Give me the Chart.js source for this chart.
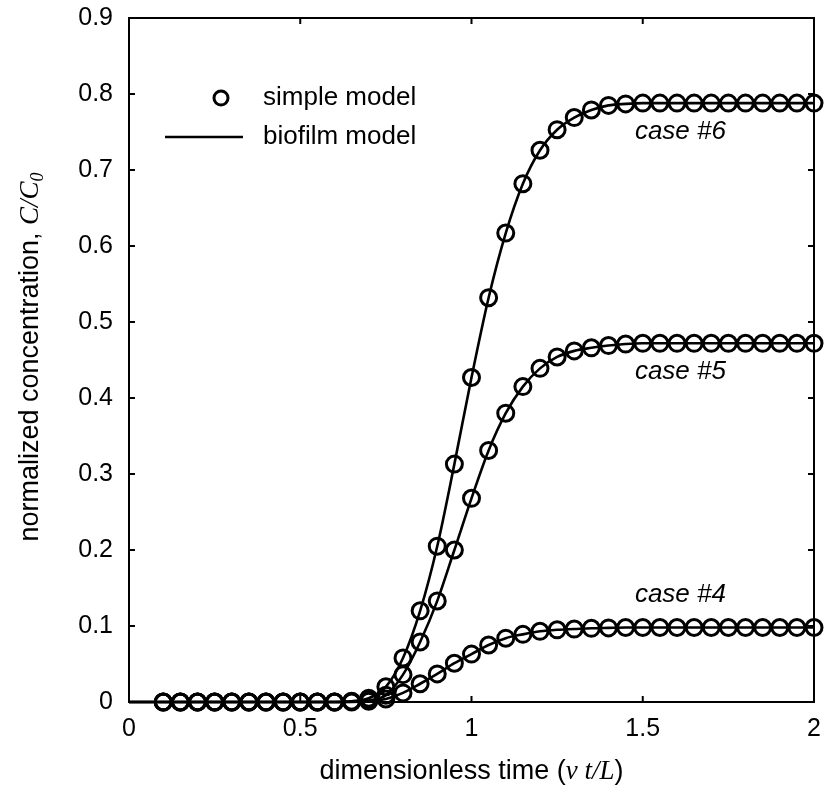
<!DOCTYPE html>
<html>
<head>
<meta charset="utf-8">
<script src="https://cdn.jsdelivr.net/npm/chart.js@4.4.0/dist/chart.umd.min.js"></script>
<style>
  html, body { margin: 0; padding: 0; background: #fff; }
  #wrap { width: 825px; height: 801px; }
</style>
</head>
<body>
<div id="wrap"><canvas id="chart" width="825" height="801"></canvas></div>
<script>
// dimensionless time values where the model was sampled
const times = [0.1, 0.15, 0.2, 0.25, 0.3, 0.35, 0.4, 0.45, 0.5, 0.55, 0.6, 0.65, 0.7, 0.75,
  0.8, 0.85, 0.9, 0.95, 1.0, 1.05, 1.1, 1.15, 1.2, 1.25, 1.3, 1.35, 1.4, 1.45, 1.5, 1.55,
  1.6, 1.65, 1.7, 1.75, 1.8, 1.85, 1.9, 1.95, 2.0];

const case6 = [0, 0, 0, 0, 0, 0, 0, 0, 0, 0, 0, 0.001, 0.005, 0.02,
  0.058, 0.12, 0.205, 0.313, 0.427, 0.532, 0.617, 0.682, 0.726, 0.753, 0.769, 0.779, 0.785, 0.787, 0.788, 0.788,
  0.788, 0.788, 0.788, 0.788, 0.788, 0.788, 0.788, 0.788, 0.788];
const case5 = [0, 0, 0, 0, 0, 0, 0, 0, 0, 0, 0, 0.0005, 0.002, 0.009,
  0.036, 0.079, 0.133, 0.2, 0.268, 0.331, 0.38, 0.415, 0.439, 0.454, 0.462, 0.466, 0.469, 0.471, 0.472, 0.472,
  0.472, 0.472, 0.472, 0.472, 0.472, 0.472, 0.472, 0.472, 0.472];
const case4 = [0, 0, 0, 0, 0, 0, 0, 0, 0, 0, 0, 0, 0.001, 0.004,
  0.012, 0.024, 0.037, 0.051, 0.063, 0.075, 0.084, 0.089, 0.093, 0.095, 0.096, 0.097, 0.0975, 0.098, 0.098, 0.098,
  0.098, 0.098, 0.098, 0.098, 0.098, 0.098, 0.098, 0.098, 0.098];

const xTicks = [0, 0.5, 1, 1.5, 2];
const yTicks = [0, 0.1, 0.2, 0.3, 0.4, 0.5, 0.6, 0.7, 0.8, 0.9];

const caseLabels = [
  { text: 'case #6', x: 1.61, y: 0.75 },
  { text: 'case #5', x: 1.61, y: 0.434 },
  { text: 'case #4', x: 1.61, y: 0.141 }
];

function pts(ys, withOrigin) {
  const out = times.map((t, i) => ({ x: t, y: ys[i] }));
  if (withOrigin) out.unshift({ x: 0, y: 0 });
  return out;
}

function lineSet(ys) {
  return {
    data: pts(ys, true), showLine: true, pointRadius: 0, borderColor: '#000',
    borderWidth: 2.6, cubicInterpolationMode: 'monotone', clip: false
  };
}
function markerSet(ys) {
  return {
    data: pts(ys, false), showLine: false, pointRadius: 8, pointHoverRadius: 8,
    pointBorderWidth: 3, pointBorderColor: '#000', pointBackgroundColor: 'rgba(0,0,0,0)',
    clip: false
  };
}

const sans = '"Liberation Sans", Arial, sans-serif';
const serif = '"Liberation Serif", "Times New Roman", serif';

// frame, inward ticks, titles, legend and case labels
const decor = {
  id: 'decor',
  afterDatasetsDraw(chart) {
    const ctx = chart.ctx;
    const a = chart.chartArea;
    const xs = chart.scales.x, ys = chart.scales.y;
    ctx.save();
    ctx.strokeStyle = '#000';
    ctx.lineWidth = 2;
    ctx.strokeRect(a.left, a.top, a.right - a.left, a.bottom - a.top);
    ctx.beginPath();
    yTicks.forEach(v => {
      const p = ys.getPixelForValue(v);
      ctx.moveTo(a.left, p); ctx.lineTo(a.left + 6, p);
      ctx.moveTo(a.right, p); ctx.lineTo(a.right - 6, p);
    });
    xTicks.forEach(v => {
      const p = xs.getPixelForValue(v);
      ctx.moveTo(p, a.bottom); ctx.lineTo(p, a.bottom - 6);
      ctx.moveTo(p, a.top); ctx.lineTo(p, a.top + 6);
    });
    ctx.stroke();

    // legend
    ctx.fillStyle = '#000';
    ctx.textBaseline = 'middle';
    ctx.textAlign = 'left';
    ctx.font = '26px ' + sans;
    ctx.lineWidth = 3;
    ctx.beginPath();
    ctx.arc(221, 98, 7, 0, Math.PI * 2);
    ctx.stroke();
    ctx.fillText('simple model', 263, 98);
    ctx.lineWidth = 2.6;
    ctx.beginPath();
    ctx.moveTo(165, 137); ctx.lineTo(243, 137);
    ctx.stroke();
    ctx.fillText('biofilm model', 263, 137);

    // case labels
    ctx.textAlign = 'center';
    ctx.font = 'italic 26px ' + sans;
    caseLabels.forEach(c => {
      ctx.fillText(c.text, xs.getPixelForValue(c.x), ys.getPixelForValue(c.y));
    });

    // x title: dimensionless time (v t/L)
    const parts = [
      { t: 'dimensionless time (', f: '27px ' + sans },
      { t: 'v t/L', f: 'italic 27px ' + serif },
      { t: ')', f: '27px ' + sans }
    ];
    let total = 0;
    parts.forEach(p => { ctx.font = p.f; p.w = ctx.measureText(p.t).width; total += p.w; });
    let x = (a.left + a.right) / 2 - total / 2;
    ctx.textAlign = 'left';
    parts.forEach(p => { ctx.font = p.f; ctx.fillText(p.t, x, 772); x += p.w; });

    // y title: normalized concentration, C/C0
    ctx.translate(31, 357);
    ctx.rotate(-Math.PI / 2);
    const yParts = [
      { t: 'normalized concentration, ', f: '27px ' + sans, dy: 0 },
      { t: 'C/C', f: 'italic 27px ' + serif, dy: 0 },
      { t: '0', f: 'italic 18px ' + serif, dy: 7 }
    ];
    total = 0;
    yParts.forEach(p => { ctx.font = p.f; p.w = ctx.measureText(p.t).width; total += p.w; });
    x = -total / 2;
    yParts.forEach(p => { ctx.font = p.f; ctx.fillText(p.t, x, p.dy); x += p.w; });
    ctx.restore();
  }
};

new Chart(document.getElementById('chart'), {
  type: 'scatter',
  data: {
    datasets: [
      lineSet(case6), markerSet(case6),
      lineSet(case5), markerSet(case5),
      lineSet(case4), markerSet(case4)
    ]
  },
  options: {
    responsive: false,
    animation: false,
    events: [],
    layout: { padding: { top: 18, right: 11, left: 0, bottom: 0 } },
    plugins: {
      legend: { display: false },
      tooltip: { enabled: false }
    },
    scales: {
      x: {
        type: 'linear', min: 0, max: 2,
        afterBuildTicks: s => { s.ticks = xTicks.map(v => ({ value: v })); },
        afterFit: s => { s.height = 99; s.paddingLeft = 0; s.paddingRight = 0; },
        grid: { display: false },
        border: { display: false },
        ticks: {
          color: '#000', padding: 4,
          font: { family: sans, size: 25 },
          callback: v => String(+v.toFixed(1))
        }
      },
      y: {
        type: 'linear', min: 0, max: 0.9,
        afterBuildTicks: s => { s.ticks = yTicks.map(v => ({ value: v })); },
        afterFit: s => { s.width = 129; s.paddingTop = 0; s.paddingBottom = 0; },
        grid: { display: false },
        border: { display: false },
        ticks: {
          color: '#000', padding: 8,
          font: { family: sans, size: 25 },
          callback: v => String(+v.toFixed(1))
        }
      }
    }
  },
  plugins: [decor]
});
</script>
</body>
</html>
